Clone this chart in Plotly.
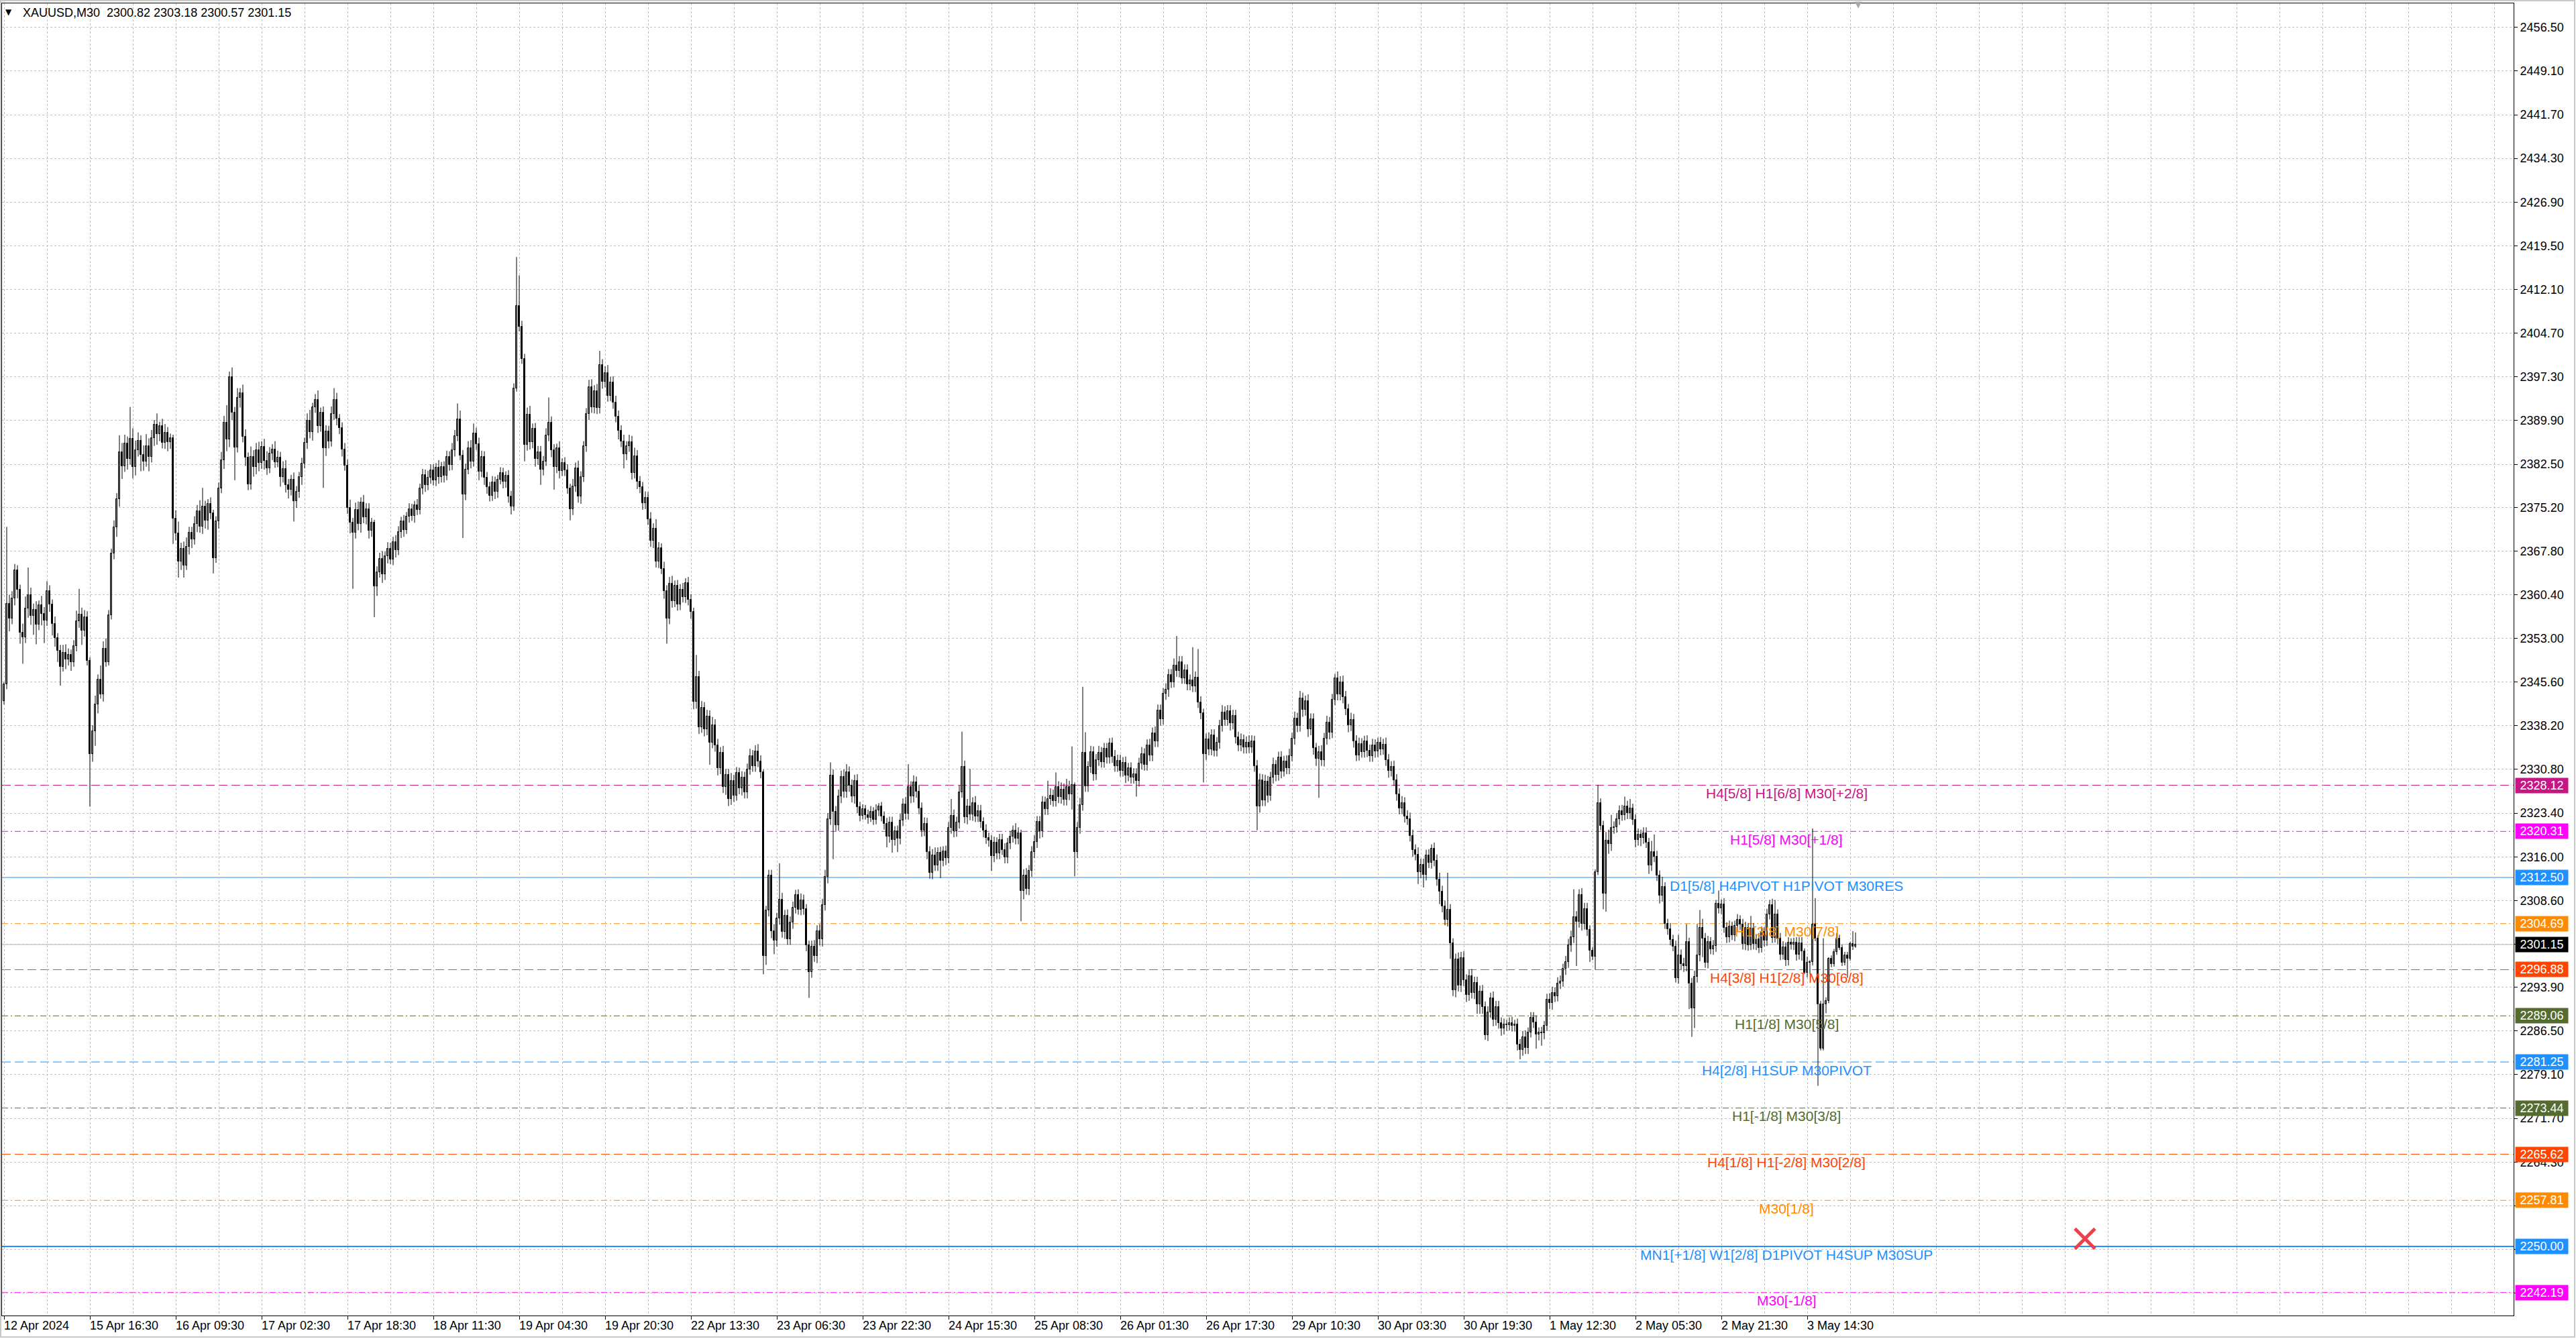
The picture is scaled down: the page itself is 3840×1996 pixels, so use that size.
import plotly.graph_objects as go

# ---------------- data ----------------
first_open = 2342.4

close_px = [
    2345.2, 2358.9, 2356.4, 2359.8, 2364.6, 2361.2, 2354.0, 2353.2, 2358.1, 2360.4,
    2356.8, 2357.9, 2355.4, 2358.6, 2357.2, 2356.0, 2361.0, 2358.7, 2355.5, 2353.1,
    2350.9, 2348.2, 2350.6, 2349.4, 2350.2, 2349.0, 2351.7, 2355.9, 2357.0, 2354.3,
    2356.6, 2349.2, 2333.4, 2337.3, 2341.8, 2346.0, 2343.5, 2351.2, 2349.0, 2356.9,
    2367.4, 2371.8, 2376.6, 2384.5, 2382.2, 2386.0, 2383.4, 2386.8, 2382.1, 2384.9,
    2386.5, 2384.1, 2383.0, 2385.6, 2383.8, 2386.9, 2389.2, 2387.6, 2389.0, 2386.1,
    2387.8, 2386.3, 2386.9, 2373.3, 2370.8, 2366.0, 2368.2, 2365.4, 2368.5, 2370.9,
    2369.8, 2372.4, 2374.6, 2371.9, 2375.3, 2373.0, 2375.8, 2374.2, 2366.6, 2372.8,
    2378.4, 2383.2, 2389.5, 2386.7, 2397.3, 2391.2, 2385.4, 2393.8, 2394.6, 2387.2,
    2383.6, 2379.1, 2383.8, 2382.0, 2384.9, 2382.7, 2385.5, 2383.1, 2381.8, 2384.3,
    2385.0, 2382.9, 2383.6, 2380.4, 2381.7, 2379.0, 2378.2, 2379.9, 2376.3, 2377.8,
    2380.4, 2382.6, 2386.1, 2389.9, 2388.0, 2392.2, 2393.4, 2389.0, 2391.3, 2385.2,
    2388.1, 2386.4, 2391.0, 2393.4, 2390.2, 2388.6, 2385.0, 2382.3, 2375.1, 2372.6,
    2370.9, 2374.8, 2372.4, 2376.0, 2373.5, 2374.9, 2371.2, 2372.6, 2361.8, 2364.2,
    2366.5, 2363.9, 2366.9, 2368.2, 2366.4, 2369.3, 2368.0, 2371.0, 2372.8, 2371.4,
    2373.6, 2374.9, 2373.7, 2375.6, 2374.8, 2378.4, 2380.7, 2379.0, 2380.2, 2381.5,
    2379.8, 2381.9, 2380.3, 2382.0, 2380.6, 2383.7, 2382.4, 2384.9, 2387.3, 2390.1,
    2384.0, 2377.4, 2381.6, 2385.2, 2383.0, 2387.7, 2385.9, 2381.3, 2383.8, 2380.2,
    2378.6, 2377.2, 2379.4, 2377.8, 2379.9, 2381.0, 2379.5, 2380.6, 2377.0, 2375.3,
    2395.4, 2409.3, 2405.8, 2400.4, 2385.8, 2390.9, 2386.2, 2388.5, 2383.4, 2384.6,
    2381.6, 2383.0, 2387.4, 2389.6, 2384.9, 2382.0, 2385.2, 2381.4, 2382.7, 2381.5,
    2378.4, 2374.9, 2378.8, 2381.8, 2377.0, 2380.4, 2385.6, 2391.0, 2395.6, 2392.2,
    2394.9, 2392.0, 2399.3, 2396.5, 2398.0, 2394.1, 2396.4, 2393.0, 2390.6, 2388.2,
    2386.4, 2384.2, 2385.6, 2386.3, 2381.0, 2383.9, 2379.5, 2378.6, 2375.9, 2376.8,
    2373.2, 2369.5, 2371.6, 2366.0, 2368.3, 2364.8, 2361.0, 2356.4, 2362.3, 2359.3,
    2361.9, 2358.8, 2361.2, 2360.0, 2362.4, 2359.6, 2357.5, 2342.3, 2346.5, 2338.0,
    2341.2, 2337.6, 2339.8, 2335.4, 2338.3, 2334.9, 2331.0, 2333.6, 2327.8, 2329.9,
    2325.8, 2328.9, 2326.4, 2330.2, 2327.6, 2329.4, 2326.9, 2330.8, 2333.1, 2331.4,
    2333.9, 2332.2, 2330.4, 2299.2, 2306.9, 2312.8, 2303.4, 2301.8, 2305.6, 2308.7,
    2303.3, 2306.0, 2302.1, 2304.9, 2307.4, 2309.5, 2307.1, 2308.6, 2307.2, 2301.0,
    2296.5, 2300.8, 2299.2, 2303.4, 2302.0, 2307.9, 2312.6, 2322.4, 2329.8, 2323.6,
    2321.4, 2326.3, 2329.6, 2327.0, 2330.4, 2328.1, 2326.2, 2328.9, 2324.4, 2323.0,
    2324.1, 2323.1, 2322.6, 2323.6, 2322.3, 2323.9, 2324.5, 2322.8, 2321.6, 2319.4,
    2321.8, 2318.9, 2320.3, 2319.1, 2322.2, 2324.9, 2323.3, 2327.8, 2326.2, 2328.6,
    2327.0, 2324.2, 2320.5, 2321.6, 2316.8, 2313.3, 2316.3, 2314.6, 2316.7, 2315.4,
    2316.9, 2315.8, 2320.9, 2323.0, 2320.4, 2321.8, 2326.9, 2331.3, 2322.7, 2324.6,
    2323.2, 2325.1, 2322.9, 2323.8, 2321.9, 2320.5, 2319.2, 2318.7, 2316.1, 2318.4,
    2316.6, 2318.9, 2317.2, 2315.9, 2318.3, 2319.4, 2320.5, 2319.1, 2320.0, 2310.2,
    2312.9, 2310.6, 2313.6, 2316.8, 2318.5, 2321.9, 2320.3, 2325.2, 2324.1, 2325.8,
    2326.4, 2325.5, 2327.8, 2326.1, 2327.4, 2325.7, 2327.9, 2326.6, 2328.2, 2316.8,
    2320.9, 2324.8, 2333.6, 2328.0, 2331.2, 2333.7, 2330.0, 2332.4, 2333.6, 2332.1,
    2334.3, 2332.8, 2335.2, 2333.0, 2331.4, 2332.3, 2330.6, 2331.9, 2329.8, 2331.0,
    2329.4, 2330.0, 2328.9, 2331.8, 2333.4, 2331.6, 2334.9, 2333.2, 2336.9, 2335.6,
    2340.8, 2339.3, 2343.6, 2344.3, 2346.8, 2345.6, 2348.4, 2347.5, 2349.0, 2346.3,
    2347.6, 2345.2, 2345.9, 2344.9, 2346.4, 2342.2, 2340.3, 2333.4, 2335.9, 2334.2,
    2336.6, 2334.0, 2335.3, 2338.2, 2340.5, 2339.2, 2340.7, 2338.6, 2339.9, 2336.2,
    2334.9, 2335.8, 2334.5, 2335.4, 2334.6, 2335.6, 2331.4, 2324.5, 2329.0, 2325.6,
    2328.8, 2326.4, 2329.4, 2331.6, 2329.9, 2332.8, 2330.5, 2332.2, 2331.0, 2333.1,
    2336.0, 2339.4, 2338.2, 2342.8, 2340.9, 2342.4, 2337.6, 2339.3, 2334.4, 2332.6,
    2333.8, 2332.4, 2336.0, 2338.7, 2337.1, 2342.6, 2346.2, 2343.5, 2345.6, 2343.1,
    2341.0, 2338.3, 2339.2, 2335.6, 2333.2, 2335.1, 2333.8, 2335.6, 2334.0, 2333.1,
    2334.9, 2333.9, 2335.3, 2334.2, 2335.0, 2332.4, 2330.6, 2331.2, 2329.0, 2326.6,
    2324.2, 2325.1, 2322.9, 2322.4, 2319.6, 2317.2, 2316.4, 2313.4, 2314.7, 2313.0,
    2316.2, 2315.0, 2317.4, 2315.4, 2312.2, 2310.1, 2307.6, 2305.4, 2307.0, 2301.4,
    2293.4, 2298.6, 2294.2, 2298.9, 2295.1, 2292.6, 2295.8, 2293.0, 2294.7, 2291.0,
    2293.2, 2290.6, 2285.8, 2289.7, 2292.0, 2288.4, 2290.6, 2287.9, 2286.9, 2287.6,
    2287.5, 2287.9, 2287.4, 2287.6, 2284.2, 2283.3, 2285.5, 2283.6, 2286.3, 2288.7,
    2288.0, 2285.9, 2286.2, 2286.1, 2287.4, 2291.8, 2291.2, 2293.0, 2292.4, 2294.6,
    2294.9, 2297.0, 2298.2, 2301.0, 2302.4, 2305.8, 2305.0, 2309.5, 2304.7, 2307.2,
    2303.6, 2300.1, 2299.1, 2313.4, 2325.1, 2321.3, 2309.8, 2318.7, 2318.2, 2320.9,
    2321.0, 2322.4, 2323.8, 2323.1, 2324.5, 2323.4, 2324.2, 2322.3, 2318.9, 2319.8,
    2319.2, 2320.0, 2318.4, 2314.6, 2316.8, 2316.0, 2312.9, 2309.4, 2310.9, 2304.7,
    2303.8, 2301.9, 2300.8, 2295.5, 2299.3, 2297.8, 2297.5, 2301.6, 2294.6, 2290.3,
    2295.7, 2299.3, 2304.0, 2302.2, 2298.1, 2301.6, 2300.4, 2300.9, 2308.1, 2307.3,
    2308.0, 2304.0, 2302.4, 2304.2, 2302.7, 2304.3, 2305.3, 2304.6, 2301.2, 2304.0,
    2301.0, 2303.9, 2301.2, 2302.1, 2300.6, 2303.3, 2301.8, 2306.2, 2307.9, 2302.3,
    2306.3, 2302.2, 2299.4, 2300.7, 2298.5, 2301.5, 2301.1, 2301.5, 2299.4, 2301.4,
    2300.0, 2296.4, 2298.1, 2298.2, 2304.6, 2302.2, 2291.0, 2283.5, 2291.0, 2291.6,
    2298.7, 2297.8, 2299.9, 2302.2, 2300.6, 2298.1, 2299.3, 2298.8, 2301.3, 2300.82,
    2301.15,
]

# upper shadow length of every bar (above the body)
up_wick = [
    0.4, 13.0, 1.5, 1.2, 1.0, 0.8, 0.9, 1.5, 2.0, 4.6,
    1.2, 1.0, 1.4, 0.8, 1.6, 1.1, 1.7, 1.0, 0.9, 1.2,
    0.8, 1.0, 1.3, 1.4, 1.1, 0.9, 1.0, 1.8, 4.4, 1.2,
    1.2, 1.0, 0.6, 1.0, 1.5, 0.9, 2.4, 1.3, 1.8, 0.9,
    0.8, 1.2, 1.0, 2.9, 1.6, 1.5, 1.2, 5.4, 1.8, 1.6,
    1.4, 0.9, 1.6, 2.0, 1.3, 1.4, 0.8, 1.9, 0.7, 1.2,
    1.5, 1.0, 0.8, 0.6, 1.4, 2.0, 1.0, 1.2, 1.6, 1.0,
    1.0, 1.3, 1.0, 1.8, 3.2, 1.0, 0.8, 1.1, 0.6, 0.9,
    1.0, 1.4, 1.2, 3.0, 0.9, 1.6, 1.0, 1.6, 0.8, 1.4,
    1.2, 0.9, 1.7, 1.1, 1.2, 1.4, 0.9, 1.3, 1.6, 1.1,
    0.9, 1.4, 1.2, 1.0, 1.3, 1.5, 1.0, 0.8, 1.2, 1.0,
    0.8, 1.0, 0.9, 1.2, 1.8, 0.7, 1.0, 1.6, 0.8, 1.0,
    1.0, 0.9, 1.3, 2.0, 1.2, 0.8, 1.0, 1.1, 1.0, 1.4,
    0.8, 1.2, 1.4, 0.9, 1.3, 1.0, 1.0, 0.8, 0.5, 1.0,
    1.0, 1.3, 0.8, 1.1, 1.0, 0.9, 1.2, 1.0, 0.8, 1.1,
    0.8, 1.0, 0.9, 0.7, 1.0, 0.8, 1.0, 0.9, 1.2, 1.0,
    1.0, 0.8, 1.3, 0.9, 1.0, 1.1, 1.0, 1.2, 1.0, 2.7,
    1.5, 0.9, 1.0, 1.2, 1.4, 1.7, 1.0, 1.1, 1.0, 0.9,
    1.0, 0.9, 1.1, 1.0, 0.8, 1.0, 0.9, 0.7, 0.9, 1.0,
    0.8, 8.3, 5.2, 1.0, 0.8, 1.2, 1.5, 0.9, 1.0, 1.0,
    1.0, 0.9, 1.2, 4.2, 1.0, 1.0, 0.8, 1.2, 0.8, 1.0,
    1.0, 0.8, 1.2, 1.0, 1.3, 0.9, 0.8, 1.0, 1.2, 1.3,
    1.0, 1.2, 2.4, 1.0, 1.1, 1.3, 0.9, 1.0, 1.1, 1.0,
    0.9, 1.1, 0.8, 1.2, 1.0, 1.4, 1.0, 1.0, 0.9, 1.1,
    1.0, 1.2, 0.9, 1.6, 1.0, 0.8, 1.2, 1.0, 1.1, 1.3,
    0.9, 1.0, 1.0, 1.2, 0.8, 1.0, 0.9, 0.7, 3.7, 1.0,
    1.2, 1.0, 1.1, 1.0, 1.4, 1.0, 1.1, 1.0, 1.2, 1.0,
    1.0, 1.3, 1.0, 1.0, 0.9, 1.1, 1.0, 1.0, 1.2, 1.0,
    1.0, 1.2, 1.0, 0.4, 0.8, 1.0, 1.0, 1.2, 0.9, 6.2,
    1.2, 1.0, 1.1, 1.0, 1.0, 0.9, 1.0, 1.2, 1.0, 0.8,
    0.8, 1.0, 1.1, 1.0, 1.2, 1.0, 1.2, 1.0, 2.2, 1.0,
    1.0, 1.1, 1.0, 1.2, 1.3, 0.9, 1.0, 1.0, 1.1, 0.9,
    0.8, 0.7, 0.9, 1.0, 0.8, 1.0, 0.6, 0.8, 0.9, 1.0,
    1.0, 1.0, 0.9, 1.0, 1.1, 1.0, 1.2, 3.9, 1.0, 1.2,
    1.0, 1.2, 1.0, 1.1, 1.0, 1.0, 1.0, 1.3, 0.9, 1.0,
    0.9, 1.0, 1.0, 2.8, 1.0, 1.0, 1.2, 5.9, 1.0, 1.2,
    6.3, 1.0, 1.2, 1.0, 1.0, 0.8, 1.0, 0.9, 1.0, 1.0,
    0.9, 1.0, 1.0, 1.1, 0.9, 1.0, 0.8, 1.2, 1.0, 0.6,
    1.0, 1.2, 1.0, 1.0, 1.2, 1.0, 1.0, 1.1, 1.0, 3.1,
    1.2, 1.0, 2.5, 1.0, 1.2, 1.0, 1.3, 1.0, 6.5, 0.4,
    1.0, 1.2, 11.2, 3.5, 1.0, 1.1, 1.0, 1.0, 1.2, 1.0,
    1.0, 1.0, 0.9, 1.0, 1.1, 1.0, 1.0, 1.0, 1.1, 0.9,
    1.0, 1.0, 1.0, 1.0, 1.2, 1.0, 1.0, 1.1, 1.0, 1.2,
    1.0, 1.0, 1.0, 1.1, 1.0, 1.0, 1.2, 5.0, 1.0, 1.0,
    1.0, 1.0, 1.0, 5.6, 1.0, 4.8, 1.0, 0.8, 1.0, 1.2,
    1.0, 1.0, 1.0, 1.0, 1.2, 1.0, 1.0, 1.0, 1.0, 1.0,
    1.0, 1.1, 0.9, 1.0, 1.2, 1.0, 0.9, 1.0, 1.1, 1.0,
    1.1, 0.9, 1.0, 1.2, 0.8, 1.0, 1.1, 0.9, 1.0, 1.2,
    1.0, 1.2, 1.0, 1.3, 1.0, 0.9, 1.1, 1.0, 1.0, 0.9,
    1.0, 1.1, 1.0, 1.2, 1.0, 1.0, 0.8, 1.2, 1.0, 1.1,
    1.0, 0.9, 1.2, 1.0, 1.0, 1.1, 1.0, 0.9, 1.0, 1.0,
    1.1, 1.0, 0.9, 1.0, 1.0, 1.2, 1.0, 1.0, 1.1, 1.0,
    1.0, 1.2, 1.0, 1.0, 1.1, 1.0, 0.9, 1.2, 1.0, 1.0,
    1.0, 1.1, 0.7, 1.0, 1.0, 1.1, 1.0, 1.0, 6.3, 1.0,
    0.8, 1.0, 1.2, 1.0, 1.1, 1.0, 1.0, 1.2, 1.0, 1.0,
    1.0, 1.1, 0.9, 1.0, 1.0, 1.2, 1.0, 1.0, 0.9, 1.0,
    0.8, 0.9, 1.0, 0.8, 1.0, 0.9, 1.0, 1.1, 0.8, 1.0,
    1.0, 1.1, 0.9, 1.0, 0.8, 1.0, 1.1, 1.0, 0.9, 1.0,
    1.0, 0.9, 1.0, 1.1, 1.1, 4.7, 1.0, 1.0, 1.2, 1.0,
    1.0, 0.8, 0.6, 0.5, 3.1, 0.8, 0.8, 1.5, 1.9, 2.2,
    1.0, 1.0, 0.9, 1.0, 1.7, 1.0, 1.6, 0.8, 0.9, 1.0,
    0.8, 1.0, 1.0, 0.8, 1.9, 3.0, 1.0, 0.8, 1.7, 0.8,
    0.8, 1.0, 0.9, 1.0, 3.5, 1.0, 1.1, 3.0, 0.7, 0.9,
    1.0, 5.3, 3.0, 1.5, 0.9, 1.0, 0.8, 1.0, 0.6, 2.2,
    0.8, 1.0, 0.9, 1.0, 0.8, 0.9, 1.0, 0.8, 0.9, 1.0,
    0.8, 2.1, 0.9, 0.8, 1.0, 0.9, 0.8, 1.0, 0.8, 1.0,
    2.4, 0.8, 0.9, 1.0, 0.8, 0.9, 0.7, 0.8, 0.9, 1.0,
    1.0, 0.5, 1.0, 0.3, 16.2, 4.4, 0.5, 0.6, 11.2, 0.6,
    0.3, 0.6, 0.5, 0.9, 0.6, 0.5, 0.6, 0.6, 0.3, 2.1,
    2.03,
]

# lower shadow length of every bar (below the body)
down_wick = [
    0.6, 0.8, 2.2, 1.0, 1.2, 1.4, 1.9, 4.5, 1.0, 1.6,
    1.5, 3.2, 3.4, 1.0, 2.0, 3.8, 0.9, 1.2, 2.0, 1.5,
    1.9, 3.2, 0.8, 1.6, 1.0, 1.5, 0.8, 0.9, 1.1, 2.4,
    1.0, 0.8, 8.9, 1.3, 2.5, 1.5, 0.7, 1.2, 0.8, 0.6,
    0.7, 1.0, 1.6, 1.3, 2.2, 1.0, 1.8, 1.0, 2.0, 1.5,
    1.1, 2.8, 1.6, 0.9, 2.5, 1.0, 1.3, 1.8, 1.2, 0.9,
    1.0, 1.6, 1.2, 4.3, 1.2, 2.7, 1.4, 2.1, 0.8, 1.3,
    1.5, 0.9, 1.4, 1.0, 1.2, 1.4, 1.6, 1.0, 2.6, 0.8,
    1.2, 0.8, 1.5, 2.0, 1.3, 1.2, 5.6, 0.9, 1.7, 1.0,
    1.4, 1.0, 0.9, 1.6, 1.2, 1.4, 1.0, 1.5, 1.1, 0.8,
    1.1, 1.0, 0.9, 1.7, 1.0, 1.3, 1.5, 1.0, 3.5, 1.2,
    1.0, 1.4, 0.8, 1.0, 1.1, 1.5, 1.0, 1.2, 1.0, 6.7,
    1.3, 1.2, 0.9, 1.0, 1.1, 1.0, 1.2, 0.9, 1.0, 1.8,
    9.5, 1.0, 1.1, 1.5, 1.0, 1.2, 1.3, 1.0, 5.2, 1.6,
    0.9, 1.5, 1.0, 1.2, 0.8, 1.0, 1.3, 0.9, 1.0, 1.2,
    0.7, 1.0, 0.8, 1.1, 0.9, 0.8, 1.0, 1.2, 0.9, 1.0,
    0.9, 1.0, 1.1, 0.9, 1.2, 0.8, 1.0, 0.9, 1.1, 0.9,
    0.8, 7.4, 1.0, 0.8, 1.2, 0.9, 1.0, 1.5, 1.0, 1.2,
    1.1, 1.0, 0.9, 1.2, 1.0, 0.8, 1.1, 1.0, 1.0, 1.3,
    0.7, 0.6, 0.8, 0.9, 2.8, 1.0, 1.2, 1.0, 1.3, 1.0,
    2.6, 1.0, 0.8, 1.0, 1.2, 3.8, 1.0, 1.3, 0.9, 1.0,
    0.9, 1.9, 1.0, 1.0, 1.0, 1.2, 0.9, 1.0, 1.0, 1.0,
    1.1, 1.0, 0.9, 1.2, 1.0, 1.0, 0.9, 1.1, 1.0, 1.5,
    1.0, 2.4, 1.0, 1.0, 1.1, 0.9, 1.2, 1.0, 1.1, 1.0,
    1.0, 1.0, 1.2, 1.0, 1.1, 0.9, 1.3, 4.3, 1.0, 1.1,
    1.0, 1.1, 1.0, 0.9, 1.0, 1.0, 1.2, 1.3, 1.2, 1.2,
    1.0, 1.2, 1.0, 3.8, 1.0, 1.1, 1.2, 1.0, 1.0, 1.3,
    1.2, 1.0, 1.1, 0.9, 1.0, 1.2, 1.0, 1.0, 0.9, 1.0,
    1.0, 1.0, 1.1, 3.1, 1.5, 1.0, 1.2, 2.3, 1.0, 1.1,
    1.0, 1.2, 1.0, 1.0, 1.1, 1.0, 0.9, 1.0, 1.0, 1.0,
    4.4, 1.0, 1.0, 1.2, 1.0, 1.2, 1.0, 1.1, 1.0, 8.0,
    1.0, 1.0, 1.2, 1.0, 1.0, 1.1, 1.0, 1.2, 1.0, 1.0,
    0.7, 0.8, 1.0, 0.7, 0.9, 0.8, 1.0, 0.8, 1.0, 1.8,
    1.0, 2.2, 1.0, 2.3, 1.0, 1.0, 1.0, 1.0, 1.1, 1.0,
    1.0, 1.0, 1.1, 1.0, 1.2, 1.0, 1.1, 1.0, 1.0, 3.0,
    1.0, 1.2, 0.9, 1.0, 1.1, 1.0, 1.0, 0.9, 1.0, 1.2,
    1.0, 1.1, 1.0, 1.0, 1.0, 1.2, 1.0, 1.0, 2.5, 1.0,
    1.0, 1.0, 0.9, 1.0, 1.0, 1.0, 1.0, 1.0, 1.0, 5.1,
    1.4, 1.0, 1.1, 1.0, 1.0, 1.0, 1.2, 1.0, 1.0, 1.0,
    1.0, 1.0, 1.0, 1.0, 1.1, 1.0, 1.0, 1.0, 2.6, 4.1,
    1.0, 1.0, 1.0, 1.0, 1.0, 1.0, 1.1, 1.0, 1.0, 1.0,
    1.0, 1.0, 1.0, 1.1, 1.0, 1.0, 1.0, 1.0, 1.3, 1.0,
    1.0, 1.0, 2.7, 1.0, 1.0, 1.0, 1.0, 1.0, 1.0, 1.0,
    1.0, 1.1, 0.9, 1.0, 1.2, 1.0, 0.9, 1.0, 1.1, 1.0,
    1.0, 1.0, 1.0, 1.0, 1.0, 1.0, 1.0, 4.8, 1.0, 1.0,
    1.0, 1.0, 1.0, 1.0, 1.0, 1.0, 1.0, 1.2, 1.0, 1.0,
    1.0, 1.0, 1.0, 1.0, 1.0, 1.0, 1.0, 4.0, 1.0, 1.0,
    1.0, 1.2, 0.9, 1.0, 1.1, 1.0, 1.2, 0.9, 1.0, 1.0,
    0.9, 1.0, 1.1, 1.0, 1.2, 1.0, 1.3, 1.0, 1.1, 1.2,
    6.6, 1.0, 1.1, 1.0, 1.2, 1.0, 0.9, 1.0, 1.0, 1.1,
    1.0, 1.2, 1.0, 1.1, 1.0, 0.9, 1.0, 1.0, 1.1, 1.0,
    1.0, 1.1, 1.0, 1.0, 0.9, 1.0, 1.2, 1.0, 1.0, 1.1,
    1.0, 1.0, 1.1, 1.0, 1.0, 1.2, 1.0, 2.0, 1.0, 2.2,
    1.0, 0.9, 1.0, 1.0, 1.1, 2.1, 1.0, 1.0, 1.2, 2.7,
    1.0, 1.2, 1.0, 1.1, 1.0, 1.2, 1.0, 1.0, 1.1, 1.6,
    1.6, 1.2, 0.8, 1.0, 1.0, 1.1, 1.0, 1.0, 1.2, 1.0,
    1.0, 0.9, 1.0, 1.0, 1.0, 1.6, 1.0, 1.0, 1.0, 0.9,
    1.0, 2.4, 1.0, 2.1, 1.0, 0.9, 1.0, 1.1, 1.0, 0.9,
    1.0, 0.9, 1.0, 1.0, 1.1, 1.0, 7.5, 1.0, 1.2, 1.0,
    1.0, 1.9, 0.6, 2.2, 0.5, 0.8, 2.7, 3.1, 1.7, 1.2,
    1.0, 0.9, 1.0, 1.0, 0.9, 1.0, 1.0, 0.9, 1.3, 1.0,
    1.4, 1.0, 0.9, 1.5, 1.0, 0.9, 1.0, 1.3, 1.0, 0.9,
    1.0, 0.9, 0.8, 0.8, 1.0, 1.0, 1.0, 0.9, 4.4, 4.8,
    3.3, 1.0, 1.0, 3.2, 0.9, 1.0, 0.9, 1.0, 1.0, 0.9,
    1.0, 0.9, 1.0, 0.9, 0.8, 1.0, 0.9, 1.0, 0.9, 1.0,
    0.9, 0.8, 0.9, 1.0, 0.9, 0.8, 1.0, 0.9, 0.8, 0.9,
    0.8, 1.0, 0.9, 0.8, 1.0, 0.9, 0.8, 0.9, 1.0, 0.8,
    1.6, 0.3, 0.8, 1.9, 0.6, 0.5, 13.8, 0.3, 0.3, 1.5,
    0.4, 0.5, 0.4, 0.5, 0.4, 0.6, 0.5, 3.3, 0.4, 0.6,
    0.25,
]

# time-axis labels and the bar index where each one sits
date_labels = ["12 Apr 2024", "15 Apr 16:30", "16 Apr 09:30", "17 Apr 02:30", "17 Apr 18:30",
               "18 Apr 11:30", "19 Apr 04:30", "19 Apr 20:30", "22 Apr 13:30", "23 Apr 06:30",
               "23 Apr 22:30", "24 Apr 15:30", "25 Apr 08:30", "26 Apr 01:30", "26 Apr 17:30",
               "29 Apr 10:30", "30 Apr 03:30", "30 Apr 19:30", "1 May 12:30", "2 May 05:30",
               "2 May 21:30", "3 May 14:30"]
date_bars = [0, 32, 64, 96, 128, 160, 192, 224, 256, 288, 320, 352, 384, 416, 448,
             480, 512, 544, 576, 608, 640, 672]

# price-scale grid values
price_ticks = [2456.50, 2449.10, 2441.70, 2434.30, 2426.90, 2419.50, 2412.10, 2404.70,
               2397.30, 2389.90, 2382.50, 2375.20, 2367.80, 2360.40, 2353.00, 2345.60,
               2338.20, 2330.80, 2323.40, 2316.00, 2308.60, 2301.20, 2293.90, 2286.50,
               2279.10, 2271.70, 2264.30, 2256.90, 2249.50, 2242.10]
# scale values whose text is completely covered by a price tag in the picture
covered_ticks = [2301.20, 2256.90, 2249.50, 2242.10]

# Murrey-math style levels
level_prices = [2328.12, 2320.31, 2312.50, 2304.69, 2296.88, 2289.06,
                2281.25, 2273.44, 2265.62, 2257.81, 2250.00, 2242.19]
level_texts = ["H4[5/8] H1[6/8] M30[+2/8]", "H1[5/8] M30[+1/8]",
               "D1[5/8] H4PIVOT H1PIVOT M30RES", "H1[3/8] M30[7/8]",
               "H4[3/8] H1[2/8] M30[6/8]", "H1[1/8] M30[5/8]",
               "H4[2/8] H1SUP M30PIVOT", "H1[-1/8] M30[3/8]",
               "H4[1/8] H1[-2/8] M30[2/8]", "M30[1/8]",
               "MN1[+1/8] W1[2/8] D1PIVOT H4SUP M30SUP", "M30[-1/8]"]

# red cross object on the chart
cross_bar = [775.5]
cross_price = [2251.3]

symbol_name = "XAUUSD,M30"

# ---------------- styles ----------------
level_colors = ["#C71585", "#FF00FF", "#1E90FF", "#FF8C00", "#FF4500", "#556B2F",
                "#1E90FF", "#556B2F", "#FF4500", "#FF8C00", "#1E90FF", "#FF00FF"]
DASH = "13px,6px"
DDOT = "9px,4px,2px,4px"
level_dashes = [DASH, DDOT, "solid", DDOT, DASH, DDOT, DASH, DDOT, DASH, DDOT, "solid", DDOT]
level_widths = [1, 1, 1, 1, 1, 1, 1, 1, 1, 1, 2, 1]

FONT = "Liberation Sans, Arial, sans-serif"
GRID = "#C0C0C0"

W, H = 3840, 1996
ML, MR, MT, MB = 3, 93, 5, 35
PLOT_W = W - ML - MR

n = len(close_px)
assert len(up_wick) == n and len(down_wick) == n, (n, len(up_wick), len(down_wick))
open_px = [first_open] + close_px[:-1]
high_px = [max(o, c) + u for o, c, u in zip(open_px, close_px, up_wick)]
low_px = [min(o, c) - d for o, c, d in zip(open_px, close_px, down_wick)]
bar_idx = list(range(n))

fig = go.Figure()

# shadows (wicks)
wx, wy = [], []
for i, hi, lo in zip(bar_idx, high_px, low_px):
    wx += [i, i, None]
    wy += [lo, hi, None]
fig.add_trace(go.Scatter(x=wx, y=wy, mode="lines", line=dict(color="black", width=1),
                         hoverinfo="skip", showlegend=False))

# bodies
MIN_BODY = 0.12
bull = [i for i in bar_idx if close_px[i] >= open_px[i]]
bear = [i for i in bar_idx if close_px[i] < open_px[i]]
for sel, fill in ((bull, "white"), (bear, "black")):
    fig.add_trace(go.Bar(
        x=sel,
        base=[min(open_px[i], close_px[i]) for i in sel],
        y=[max(abs(close_px[i] - open_px[i]), MIN_BODY) for i in sel],
        width=0.6,
        marker=dict(color=fill, line=dict(color="black", width=1)),
        hoverinfo="skip", showlegend=False,
    ))

fig.add_trace(go.Scatter(
    x=cross_bar, y=cross_price, mode="markers",
    marker=dict(symbol="x-thin", size=30, line=dict(color="#EE3F4B", width=5), color="#EE3F4B"),
    hoverinfo="skip", showlegend=False,
))

# level lines
for p, col, dsh, wd in zip(level_prices, level_colors, level_dashes, level_widths):
    fig.add_shape(type="line", xref="paper", x0=0, x1=1, yref="y", y0=p, y1=p,
                  line=dict(color=col, width=wd, dash=dsh), layer="between")

last_price = close_px[-1]
fig.add_shape(type="line", xref="paper", x0=0, x1=1, yref="y", y0=last_price, y1=last_price,
              line=dict(color="#B4B4B4", width=1), layer="between")

annotations = []
# level texts
label_x = (2663 - ML) / PLOT_W
for p, txt, col in zip(level_prices, level_texts, level_colors):
    annotations.append(dict(x=label_x, xref="paper", y=p, yref="y", text=txt,
                            showarrow=False, xanchor="center", yanchor="middle", yshift=-12,
                            font=dict(family=FONT, size=21, color=col)))
# price tags on the scale
for p, col in zip(level_prices, level_colors):
    annotations.append(dict(x=1, xref="paper", y=p, yref="y", text=f"{p:.2f}",
                            showarrow=False, xanchor="left", yanchor="middle", xshift=2,
                            bgcolor=col, width=76, height=20, borderpad=1, align="center",
                            font=dict(family=FONT, size=18, color="white")))
annotations.append(dict(x=1, xref="paper", y=last_price, yref="y", text=f"{last_price:.2f}",
                        showarrow=False, xanchor="left", yanchor="middle", xshift=2,
                        bgcolor="black", width=76, height=20, borderpad=1, align="center",
                        font=dict(family=FONT, size=18, color="white")))
# date labels, left-aligned at their tick
for b, txt in zip(date_bars, date_labels):
    annotations.append(dict(x=b, xref="x", y=0, yref="paper", text=txt, showarrow=False,
                            xanchor="left", yanchor="top", xshift=-2, yshift=-3,
                            font=dict(family=FONT, size=18, color="black")))
# header
o, h, l, c = open_px[-1], high_px[-1], low_px[-1], close_px[-1]
annotations.append(dict(x=0, xref="paper", y=1, yref="paper", text="\u25BC", showarrow=False,
                        xanchor="center", yanchor="middle", xshift=10, yshift=-13,
                        font=dict(family="DejaVu Sans", size=12, color="black")))
annotations.append(dict(x=0, xref="paper", y=1, yref="paper",
                        text=f"{symbol_name}  {o:.2f} {h:.2f} {l:.2f} {c:.2f}",
                        showarrow=False, xanchor="left", yanchor="middle", xshift=29, yshift=-14,
                        font=dict(family=FONT, size=18, color="black")))
# chart-shift marker at the top border
annotations.append(dict(x=(2770 - ML) / PLOT_W, xref="paper", y=1, yref="paper", text="\u25BC",
                        showarrow=False, xanchor="center", yanchor="middle", yshift=-1,
                        font=dict(family="DejaVu Sans", size=13, color="#A8A8A8")))

# window border
fig.add_shape(type="rect", xref="paper", yref="paper",
              x0=(1 - ML) / PLOT_W, x1=(W - 2 - ML) / PLOT_W,
              y0=1 - (H - 3 - MT) / (H - MT - MB), y1=1 - (1 - MT) / (H - MT - MB),
              line=dict(color="#C8C8C8", width=2), layer="below")

minor_vals = [v for v in range(16, 936, 16) if v not in date_bars]
minor_vals = sorted(set(minor_vals))

tick_text = ["" if v in covered_ticks else f"{v:.2f}" for v in price_ticks]

fig.update_layout(
    width=W, height=H,
    margin=dict(l=ML, r=MR, t=MT, b=MB, pad=0),
    paper_bgcolor="white", plot_bgcolor="white",
    showlegend=False, barmode="overlay", bargap=0,
    annotations=annotations,
    xaxis=dict(range=[-0.75, 935.25], showline=True, linecolor="black", linewidth=1, mirror=True,
               tickvals=date_bars, showticklabels=False, ticks="outside", ticklen=5,
               tickcolor="black", showgrid=True, gridcolor=GRID, griddash="3px,3px", gridwidth=1,
               minor=dict(tickvals=minor_vals, showgrid=True, gridcolor=GRID, griddash="3px,3px",
                          ticks=""),
               zeroline=False, automargin=False, fixedrange=True),
    yaxis=dict(range=[2238.3, 2460.57], side="right", showline=True, linecolor="black",
               linewidth=1, mirror=True, tickvals=price_ticks,
               ticktext=tick_text, ticks="outside", ticklen=5,
               tickcolor="black", tickfont=dict(family=FONT, size=18, color="black"),
               showgrid=True, gridcolor=GRID, griddash="3px,3px", gridwidth=1,
               zeroline=False, automargin=False, fixedrange=True),
)

fig.write_html("out.html", config={"displayModeBar": False},
               post_script="document.body.style.margin='0';document.body.style.overflow='hidden';")
